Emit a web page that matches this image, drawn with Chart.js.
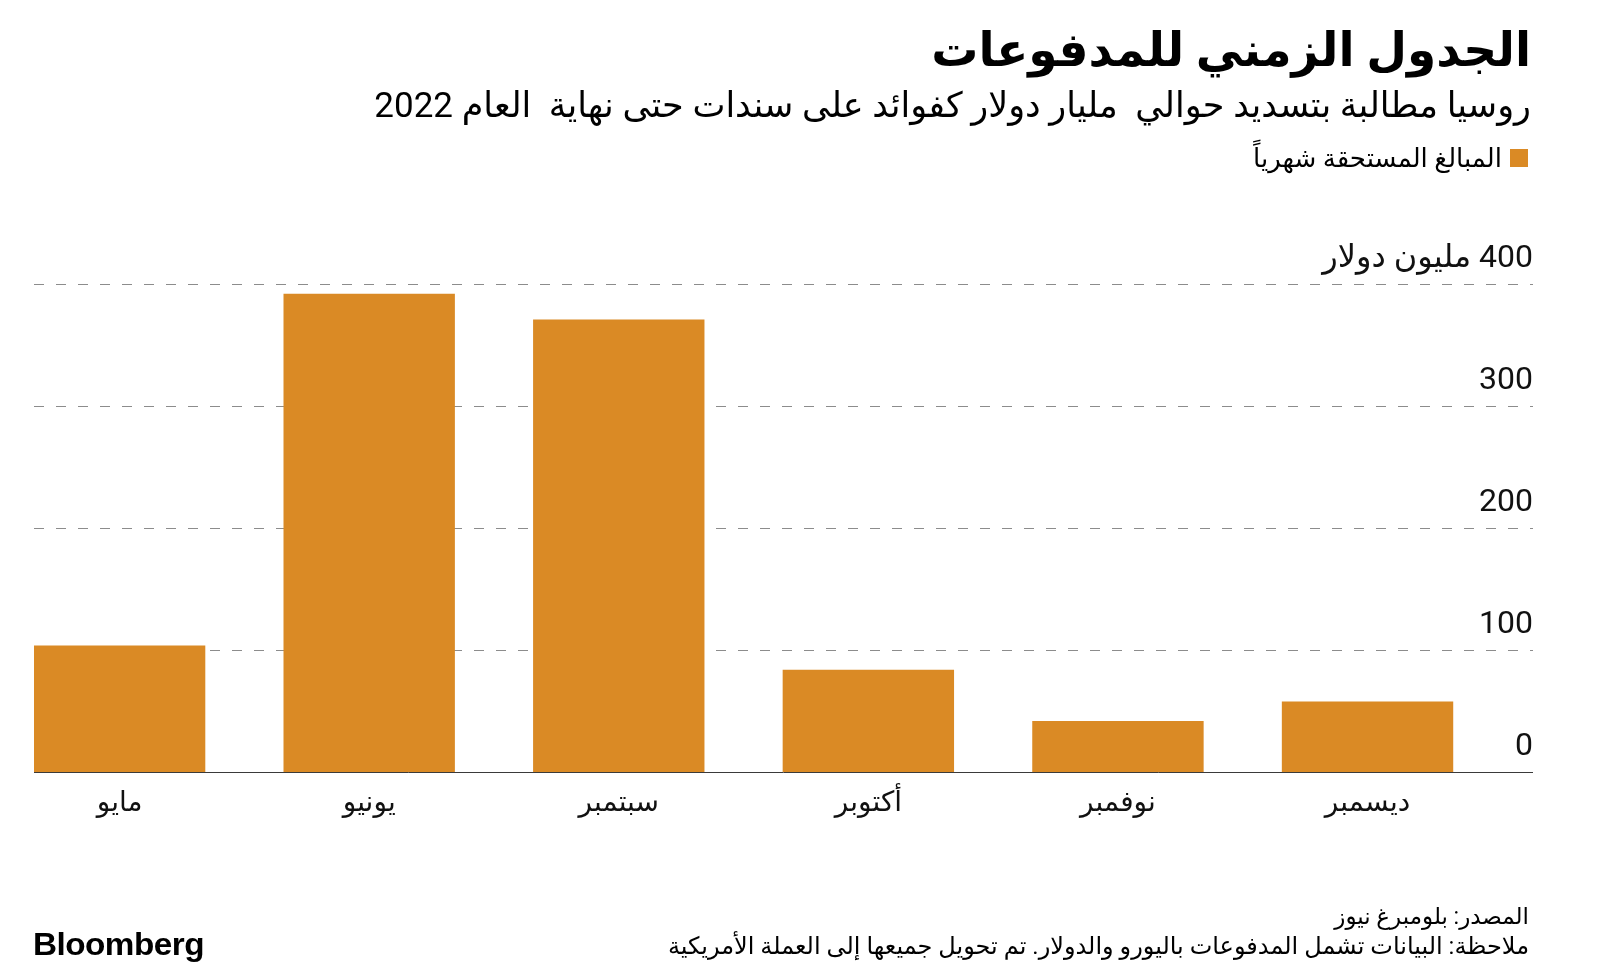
<!DOCTYPE html>
<html lang="ar">
<head>
<meta charset="utf-8">
<script src="https://cdn.jsdelivr.net/npm/chart.js@4.4.1/dist/chart.umd.min.js"></script>
<style>
html,body{margin:0;padding:0;background:#fff;width:1600px;height:969px;overflow:hidden;}
#wrap{position:relative;width:1600px;height:969px;}
canvas{position:absolute;left:0;top:0;direction:rtl;}
.t{position:absolute;white-space:pre;direction:rtl;line-height:1;color:#000;font-family:Roboto,'DejaVu Sans',sans-serif;}
#title{right:69px;top:26px;font-size:47px;font-weight:bold;}
#subtitle{right:69px;top:88px;font-size:35px;}
#legend{right:72px;top:145px;font-size:26px;display:flex;align-items:center;gap:8px;}
#legend .sw{width:18px;height:18px;display:inline-block;}
#src{right:71px;top:905px;font-size:23px;}
#note{right:71px;top:934px;font-size:24px;}
#logo{left:33px;top:928px;font-family:'Liberation Sans',Arial,sans-serif;font-weight:bold;font-size:32px;direction:ltr;transform:scaleX(1.04);transform-origin:left;letter-spacing:-0.5px;}
</style>
</head>
<body>
<div id="wrap">
<canvas id="c" width="1600" height="969" dir="rtl"></canvas>
<div class="t" id="title"></div>
<div class="t" id="subtitle"></div>
<div class="t" id="legend"><span class="sw"></span><span id="legtext"></span></div>
<div class="t" id="src"></div>
<div class="t" id="note"></div>
<div class="t" id="logo">Bloomberg</div>
</div>
<script>
const titleText = 'الجدول الزمني للمدفوعات';
const subtitleText = 'روسيا مطالبة بتسديد حوالي  مليار دولار كفوائد على سندات حتى نهاية  العام 2022';
const sourceText = 'المصدر: بلومبرغ نيوز';
const noteText = 'ملاحظة: البيانات تشمل المدفوعات باليورو والدولار. تم تحويل جميعها إلى العملة الأمريكية';
const months = ['مايو', 'يونيو', 'سبتمبر', 'أكتوبر', 'نوفمبر', 'ديسمبر'];
const payments = [104, 392, 371, 84, 42, 58];
const yTickValues = [0, 100, 200, 300, 400];
const yTickLabels = ['0', '100', '200', '300', '400 مليون دولار'];
const seriesName = 'المبالغ المستحقة شهرياً';
const barColor = '#DA8A25';

document.getElementById('title').textContent = titleText;
document.getElementById('subtitle').textContent = subtitleText;
document.getElementById('legtext').textContent = seriesName;
document.querySelector('#legend .sw').style.background = barColor;
document.getElementById('src').textContent = sourceText;
document.getElementById('note').textContent = noteText;

const FONT = "Roboto, 'DejaVu Sans', sans-serif";

new Chart(document.getElementById('c').getContext('2d'), {
  type: 'bar',
  data: {
    datasets: [{
      label: seriesName,
      data: months.map((m, i) => ({ x: i, y: payments[i] })),
      backgroundColor: barColor,
      borderWidth: 0,
      categoryPercentage: 1,
      barPercentage: 0.6867
    }]
  },
  options: {
    responsive: false,
    devicePixelRatio: 1,
    animation: false,
    layout: { padding: { top: 284, left: 34, right: 67, bottom: 133 } },
    plugins: { legend: { display: false }, title: { display: false }, tooltip: { enabled: false } },
    scales: {
      x: {
        type: 'linear', min: -0.343, max: 5.663, offset: false,
        grid: { display: false, drawTicks: false },
        border: { display: false },
        afterBuildTicks: s => { s.ticks = months.map((m, i) => ({ value: i })); },
        ticks: {
          autoSkip: false, maxRotation: 0, minRotation: 0, padding: 15, color: '#111',
          font: { family: FONT, size: 28 },
          callback: v => months[v] ?? ''
        }
      },
      y: {
        position: 'right', min: 0, max: 400,
        afterBuildTicks: s => { s.ticks = yTickValues.map(v => ({ value: v })); },
        grid: {
          drawTicks: false,
          color: c => (c.tick && c.tick.value === 0) ? '#3a3a3a' : '#8c8c8c',
          lineWidth: 1
        },
        border: { display: false, dash: c => (c.tick && c.tick.value === 0) ? [] : [10, 12] },
        ticks: {
          mirror: true, padding: 0, labelOffset: -25, color: '#111',
          font: { family: FONT, size: 32 },
          callback: v => yTickLabels[yTickValues.indexOf(v)]
        }
      }
    }
  }
});
</script>
</body>
</html>
